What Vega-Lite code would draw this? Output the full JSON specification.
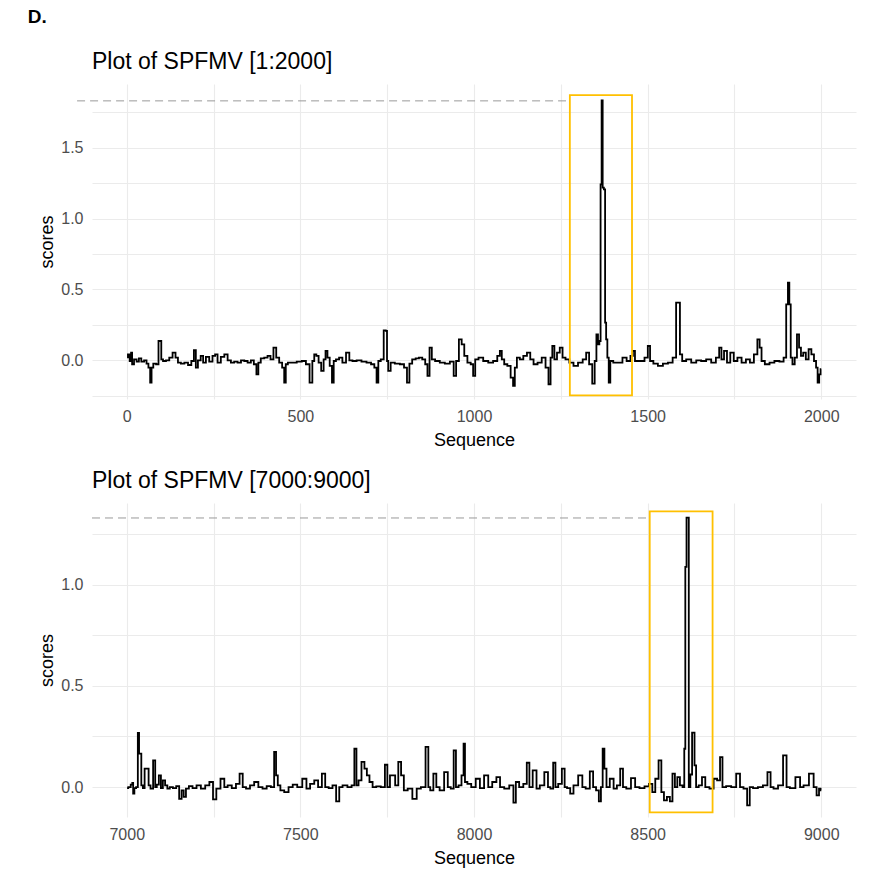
{
  "$schema": "https://vega.github.io/schema/vega-lite/v6.json",
  "background": "white",
  "padding": {"left": 27, "top": 8, "right": 10, "bottom": 5},
  "title": {"text": "D.", "anchor": "start", "fontSize": 19, "fontWeight": "bold", "font": "Liberation Sans", "color": "black", "offset": 24, "dx": -11},
  "spacing": 21,
  "config": {
    "font": "Liberation Sans",
    "view": {"stroke": null},
    "axis": {"grid": true, "gridColor": "#ebebeb", "gridWidth": 1.1, "domain": false, "ticks": false, "tickSize": 0, "labelColor": "#4d4d4d", "labelFontSize": 16, "labelOverlap": false, "titleFontSize": 18, "titleFontWeight": "normal", "titleColor": "black", "labelFont": "Liberation Sans", "titleFont": "Liberation Sans"}
  },
  "datasets": {
    "p1": [
      {"seq":1,"score":0.02},{"seq":6,"score":0.042},{"seq":11,"score":-0.005},{"seq":14,"score":0.054},{"seq":17,"score":-0.028},{"seq":25,"score":0.007},{"seq":32,"score":-0.009},{"seq":38,"score":0.014},{"seq":46,"score":-0.009},{"seq":54,"score":0.0},{"seq":60,"score":-0.023},{"seq":65,"score":-0.052},{"seq":70,"score":-0.158},{"seq":73,"score":-0.052},{"seq":80,"score":-0.023},{"seq":89,"score":-0.028},{"seq":94,"score":0.136},{"seq":98,"score":0.136},{"seq":101,"score":0.007},{"seq":108,"score":-0.005},{"seq":118,"score":0.0},{"seq":127,"score":0.019},{"seq":137,"score":0.054},{"seq":144,"score":0.019},{"seq":151,"score":-0.016},{"seq":161,"score":-0.023},{"seq":171,"score":-0.016},{"seq":182,"score":-0.033},{"seq":190,"score":-0.005},{"seq":197,"score":0.071},{"seq":201,"score":-0.052},{"seq":209,"score":0.0},{"seq":217,"score":0.031},{"seq":223,"score":-0.016},{"seq":233,"score":0.024},{"seq":242,"score":-0.009},{"seq":252,"score":0.031},{"seq":257,"score":0.042},{"seq":266,"score":-0.016},{"seq":276,"score":0.024},{"seq":286,"score":0.042},{"seq":295,"score":0.0},{"seq":305,"score":-0.016},{"seq":314,"score":-0.009},{"seq":324,"score":-0.016},{"seq":334,"score":0.0},{"seq":343,"score":-0.005},{"seq":353,"score":-0.016},{"seq":362,"score":0.0},{"seq":370,"score":-0.028},{"seq":377,"score":-0.099},{"seq":381,"score":-0.016},{"seq":391,"score":0.014},{"seq":401,"score":0.019},{"seq":410,"score":0.031},{"seq":418,"score":0.007},{"seq":427,"score":0.089},{"seq":434,"score":0.019},{"seq":444,"score":-0.016},{"seq":451,"score":-0.052},{"seq":456,"score":-0.158},{"seq":460,"score":-0.028},{"seq":468,"score":-0.016},{"seq":482,"score":-0.016},{"seq":497,"score":-0.009},{"seq":511,"score":-0.005},{"seq":521,"score":-0.028},{"seq":532,"score":-0.158},{"seq":537,"score":-0.005},{"seq":543,"score":0.042},{"seq":549,"score":0.031},{"seq":556,"score":-0.016},{"seq":564,"score":-0.075},{"seq":570,"score":0.007},{"seq":575,"score":0.066},{"seq":581,"score":0.019},{"seq":588,"score":-0.04},{"seq":594,"score":-0.158},{"seq":598,"score":-0.005},{"seq":607,"score":0.007},{"seq":616,"score":0.019},{"seq":626,"score":-0.016},{"seq":637,"score":0.054},{"seq":645,"score":0.0},{"seq":655,"score":-0.005},{"seq":669,"score":0.0},{"seq":683,"score":-0.009},{"seq":698,"score":-0.016},{"seq":709,"score":-0.028},{"seq":717,"score":-0.052},{"seq":722,"score":-0.158},{"seq":727,"score":-0.005},{"seq":736,"score":0.007},{"seq":744,"score":0.211},{"seq":748,"score":0.207},{"seq":751,"score":-0.005},{"seq":755,"score":-0.075},{"seq":765,"score":-0.016},{"seq":779,"score":-0.023},{"seq":794,"score":-0.028},{"seq":803,"score":-0.052},{"seq":811,"score":-0.158},{"seq":817,"score":-0.023},{"seq":827,"score":0.007},{"seq":837,"score":0.014},{"seq":846,"score":0.019},{"seq":856,"score":0.007},{"seq":863,"score":-0.028},{"seq":869,"score":-0.11},{"seq":875,"score":0.089},{"seq":882,"score":0.007},{"seq":894,"score":-0.005},{"seq":909,"score":-0.016},{"seq":923,"score":-0.023},{"seq":938,"score":-0.009},{"seq":945,"score":-0.11},{"seq":952,"score":-0.005},{"seq":961,"score":0.148},{"seq":968,"score":0.113},{"seq":976,"score":0.031},{"seq":986,"score":-0.016},{"seq":995,"score":-0.028},{"seq":1000,"score":-0.11},{"seq":1007,"score":0.007},{"seq":1019,"score":0.019},{"seq":1034,"score":-0.005},{"seq":1048,"score":-0.016},{"seq":1062,"score":-0.005},{"seq":1072,"score":0.031},{"seq":1077,"score":0.066},{"seq":1083,"score":0.007},{"seq":1091,"score":-0.028},{"seq":1101,"score":-0.04},{"seq":1110,"score":-0.122},{"seq":1115,"score":-0.181},{"seq":1120,"score":-0.052},{"seq":1127,"score":0.019},{"seq":1137,"score":0.007},{"seq":1147,"score":0.031},{"seq":1158,"score":0.054},{"seq":1166,"score":0.007},{"seq":1177,"score":-0.028},{"seq":1189,"score":-0.016},{"seq":1201,"score":0.019},{"seq":1211,"score":-0.052},{"seq":1218,"score":-0.169},{"seq":1223,"score":0.019},{"seq":1228,"score":0.101},{"seq":1235,"score":0.007},{"seq":1243,"score":0.054},{"seq":1251,"score":0.089},{"seq":1259,"score":0.019},{"seq":1268,"score":0.007},{"seq":1281,"score":-0.016},{"seq":1292,"score":-0.04},{"seq":1307,"score":-0.016},{"seq":1319,"score":0.007},{"seq":1327,"score":0.054},{"seq":1336,"score":-0.028},{"seq":1345,"score":-0.165},{"seq":1350,"score":-0.005},{"seq":1355,"score":0.183},{"seq":1359,"score":0.113},{"seq":1363,"score":0.136},{"seq":1366,"score":1.241},{"seq":1369,"score":1.833},{"seq":1372,"score":1.218},{"seq":1376,"score":1.206},{"seq":1379,"score":0.266},{"seq":1382,"score":0.148},{"seq":1386,"score":0.019},{"seq":1390,"score":-0.157},{"seq":1395,"score":-0.005},{"seq":1407,"score":-0.016},{"seq":1422,"score":-0.016},{"seq":1433,"score":0.019},{"seq":1446,"score":-0.005},{"seq":1455,"score":0.031},{"seq":1460,"score":0.066},{"seq":1467,"score":-0.005},{"seq":1484,"score":-0.005},{"seq":1498,"score":0.019},{"seq":1503,"score":0.101},{"seq":1511,"score":-0.005},{"seq":1522,"score":-0.023},{"seq":1537,"score":-0.04},{"seq":1551,"score":-0.023},{"seq":1566,"score":-0.016},{"seq":1578,"score":0.019},{"seq":1586,"score":0.407},{"seq":1591,"score":0.407},{"seq":1595,"score":0.042},{"seq":1604,"score":-0.005},{"seq":1618,"score":0.007},{"seq":1633,"score":-0.016},{"seq":1647,"score":0.0},{"seq":1661,"score":-0.005},{"seq":1676,"score":0.007},{"seq":1690,"score":-0.016},{"seq":1703,"score":0.019},{"seq":1709,"score":0.089},{"seq":1716,"score":0.007},{"seq":1724,"score":0.066},{"seq":1733,"score":-0.016},{"seq":1743,"score":0.054},{"seq":1753,"score":-0.005},{"seq":1764,"score":0.019},{"seq":1777,"score":-0.016},{"seq":1789,"score":0.007},{"seq":1800,"score":-0.016},{"seq":1812,"score":0.042},{"seq":1820,"score":0.148},{"seq":1825,"score":0.089},{"seq":1831,"score":-0.005},{"seq":1844,"score":-0.028},{"seq":1858,"score":-0.016},{"seq":1872,"score":-0.005},{"seq":1887,"score":-0.009},{"seq":1896,"score":0.019},{"seq":1902,"score":0.395},{"seq":1906,"score":0.548},{"seq":1910,"score":0.395},{"seq":1914,"score":0.019},{"seq":1920,"score":-0.028},{"seq":1927,"score":0.019},{"seq":1933,"score":0.183},{"seq":1939,"score":0.089},{"seq":1944,"score":0.031},{"seq":1952,"score":0.054},{"seq":1959,"score":0.007},{"seq":1968,"score":0.078},{"seq":1975,"score":0.042},{"seq":1983,"score":-0.005},{"seq":1987,"score":-0.052},{"seq":1992,"score":-0.157},{"seq":1996,"score":-0.099},{"seq":2000,"score":-0.063}
    ],
    "p2": [
      {"seq":7001,"score":-0.005},{"seq":7008,"score":0.0},{"seq":7015,"score":0.012},{"seq":7017,"score":0.021},{"seq":7020,"score":-0.033},{"seq":7024,"score":-0.005},{"seq":7030,"score":0.0},{"seq":7034,"score":0.268},{"seq":7037,"score":0.165},{"seq":7040,"score":0.165},{"seq":7044,"score":0.008},{"seq":7049,"score":-0.005},{"seq":7054,"score":0.091},{"seq":7061,"score":0.091},{"seq":7065,"score":0.008},{"seq":7072,"score":-0.008},{"seq":7080,"score":0.132},{"seq":7084,"score":0.0},{"seq":7089,"score":0.012},{"seq":7096,"score":0.058},{"seq":7101,"score":-0.005},{"seq":7107,"score":0.033},{"seq":7114,"score":0.008},{"seq":7120,"score":-0.008},{"seq":7128,"score":0.0},{"seq":7138,"score":-0.005},{"seq":7147,"score":0.005},{"seq":7155,"score":-0.058},{"seq":7161,"score":-0.016},{"seq":7167,"score":-0.049},{"seq":7174,"score":-0.008},{"seq":7184,"score":0.005},{"seq":7195,"score":-0.005},{"seq":7207,"score":0.008},{"seq":7220,"score":-0.008},{"seq":7232,"score":0.008},{"seq":7244,"score":0.025},{"seq":7253,"score":-0.061},{"seq":7263,"score":-0.008},{"seq":7277,"score":0.041},{"seq":7285,"score":0.0},{"seq":7296,"score":0.008},{"seq":7309,"score":-0.005},{"seq":7320,"score":0.016},{"seq":7330,"score":0.066},{"seq":7338,"score":0.0},{"seq":7349,"score":-0.008},{"seq":7361,"score":0.008},{"seq":7373,"score":0.025},{"seq":7385,"score":0.0},{"seq":7397,"score":-0.008},{"seq":7409,"score":0.005},{"seq":7421,"score":0.0},{"seq":7428,"score":0.173},{"seq":7432,"score":0.058},{"seq":7438,"score":0.008},{"seq":7447,"score":-0.016},{"seq":7460,"score":-0.025},{"seq":7472,"score":0.0},{"seq":7484,"score":0.012},{"seq":7498,"score":0.0},{"seq":7513,"score":0.041},{"seq":7522,"score":-0.008},{"seq":7534,"score":0.016},{"seq":7546,"score":0.033},{"seq":7556,"score":0.0},{"seq":7568,"score":0.066},{"seq":7575,"score":0.0},{"seq":7588,"score":-0.005},{"seq":7597,"score":0.008},{"seq":7609,"score":-0.071},{"seq":7615,"score":0.0},{"seq":7628,"score":0.008},{"seq":7643,"score":0.0},{"seq":7652,"score":0.008},{"seq":7659,"score":0.189},{"seq":7664,"score":0.008},{"seq":7671,"score":0.033},{"seq":7681,"score":0.124},{"seq":7688,"score":0.091},{"seq":7695,"score":0.058},{"seq":7703,"score":0.025},{"seq":7713,"score":0.0},{"seq":7724,"score":0.003},{"seq":7739,"score":0.0},{"seq":7748,"score":0.11},{"seq":7753,"score":0.0},{"seq":7763,"score":0.058},{"seq":7769,"score":0.058},{"seq":7777,"score":0.008},{"seq":7787,"score":0.124},{"seq":7793,"score":0.058},{"seq":7803,"score":-0.016},{"seq":7815,"score":-0.008},{"seq":7830,"score":-0.058},{"seq":7840,"score":-0.008},{"seq":7854,"score":0.0},{"seq":7867,"score":0.198},{"seq":7870,"score":0.0},{"seq":7878,"score":-0.016},{"seq":7888,"score":0.066},{"seq":7895,"score":0.0},{"seq":7907,"score":-0.016},{"seq":7921,"score":0.074},{"seq":7928,"score":0.0},{"seq":7938,"score":-0.008},{"seq":7945,"score":0.181},{"seq":7951,"score":0.0},{"seq":7960,"score":0.008},{"seq":7968,"score":0.058},{"seq":7972,"score":0.214},{"seq":7976,"score":0.025},{"seq":7986,"score":0.016},{"seq":7998,"score":0.0},{"seq":8012,"score":0.041},{"seq":8022,"score":-0.005},{"seq":8036,"score":0.058},{"seq":8046,"score":0.0},{"seq":8059,"score":0.025},{"seq":8070,"score":0.049},{"seq":8080,"score":0.0},{"seq":8094,"score":-0.008},{"seq":8109,"score":0.008},{"seq":8118,"score":-0.077},{"seq":8123,"score":0.025},{"seq":8137,"score":0.0},{"seq":8147,"score":0.016},{"seq":8157,"score":0.12},{"seq":8162,"score":0.0},{"seq":8176,"score":0.082},{"seq":8184,"score":-0.008},{"seq":8195,"score":0.008},{"seq":8210,"score":0.074},{"seq":8216,"score":0.0},{"seq":8224,"score":-0.008},{"seq":8232,"score":0.12},{"seq":8237,"score":0.0},{"seq":8248,"score":0.016},{"seq":8258,"score":0.091},{"seq":8264,"score":0.0},{"seq":8272,"score":-0.005},{"seq":8282,"score":-0.033},{"seq":8291,"score":0.008},{"seq":8309,"score":0.058},{"seq":8315,"score":0.0},{"seq":8328,"score":-0.008},{"seq":8339,"score":0.077},{"seq":8347,"score":0.0},{"seq":8356,"score":-0.016},{"seq":8363,"score":-0.071},{"seq":8368,"score":0.0},{"seq":8373,"score":0.189},{"seq":8378,"score":0.091},{"seq":8385,"score":0.0},{"seq":8397,"score":0.041},{"seq":8407,"score":-0.008},{"seq":8416,"score":0.008},{"seq":8426,"score":0.091},{"seq":8432,"score":0.0},{"seq":8445,"score":-0.008},{"seq":8459,"score":0.044},{"seq":8469,"score":0.0},{"seq":8484,"score":-0.005},{"seq":8498,"score":0.003},{"seq":8510,"score":0.016},{"seq":8517,"score":-0.025},{"seq":8527,"score":0.041},{"seq":8536,"score":0.132},{"seq":8543,"score":-0.025},{"seq":8551,"score":-0.066},{"seq":8560,"score":-0.049},{"seq":8568,"score":-0.071},{"seq":8575,"score":0.066},{"seq":8582,"score":0.0},{"seq":8589,"score":0.049},{"seq":8597,"score":0.008},{"seq":8604,"score":0.0},{"seq":8607,"score":0.189},{"seq":8610,"score":1.087},{"seq":8614,"score":1.331},{"seq":8617,"score":1.331},{"seq":8620,"score":0.0},{"seq":8626,"score":0.062},{"seq":8630,"score":0.269},{"seq":8633,"score":0.269},{"seq":8637,"score":0.107},{"seq":8642,"score":0.0},{"seq":8652,"score":0.008},{"seq":8661,"score":0.049},{"seq":8671,"score":0.0},{"seq":8685,"score":-0.008},{"seq":8695,"score":0.041},{"seq":8705,"score":0.033},{"seq":8712,"score":0.148},{"seq":8719,"score":0.0},{"seq":8733,"score":0.005},{"seq":8748,"score":0.0},{"seq":8762,"score":0.066},{"seq":8770,"score":0.0},{"seq":8782,"score":-0.008},{"seq":8791,"score":-0.091},{"seq":8797,"score":0.0},{"seq":8810,"score":-0.005},{"seq":8825,"score":0.0},{"seq":8839,"score":0.008},{"seq":8851,"score":0.074},{"seq":8857,"score":0.0},{"seq":8868,"score":-0.008},{"seq":8883,"score":0.008},{"seq":8897,"score":0.156},{"seq":8903,"score":0.0},{"seq":8916,"score":-0.005},{"seq":8935,"score":0.049},{"seq":8943,"score":0.0},{"seq":8955,"score":0.008},{"seq":8974,"score":0.066},{"seq":8982,"score":0.0},{"seq":8991,"score":-0.041},{"seq":8996,"score":-0.008},{"seq":9000,"score":-0.016}
    ],
    "box1": [{"x1": 1276, "x2": 1455, "y1": -0.247, "y2": 1.871}],
    "ref1": [{"x1": -143, "x2": 1265, "y": 1.83}],
    "box2": [{"x1": 8506, "x2": 8687, "y1": -0.125, "y2": 1.362}],
    "ref2": [{"x1": 6900, "x2": 8496, "y": 1.329}]
  },
  "vconcat": [
    {
      "width": 764,
      "height": 315,
      "title": {"text": "Plot of SPFMV [1:2000]", "anchor": "start", "frame": "group", "fontSize": 23, "fontWeight": "normal", "color": "black", "font": "Liberation Sans", "offset": 10},
      "layer": [
        {
          "data": {"name": "p1"},
          "mark": {"type": "line", "color": "black", "strokeWidth": 1.8, "interpolate": "step"},
          "encoding": {
            "x": {"field": "seq", "type": "quantitative", "scale": {"domain": [-100, 2100], "nice": false, "zero": false},
                  "axis": {"title": "Sequence", "values": [0, 250, 500, 750, 1000, 1250, 1500, 1750, 2000], "tickCount": 30, "labelExpr": "datum.value % 500 === 0 ? format(datum.value, 'd') : ''", "labelPadding": 9, "titlePadding": 7, "labelOverlap": false}},
            "y": {"field": "score", "type": "quantitative", "scale": {"domain": [-0.273, 1.949], "nice": false, "zero": false},
                  "axis": {"title": "scores", "values": [-0.25, 0, 0.25, 0.5, 0.75, 1, 1.25, 1.5, 1.75], "tickCount": 30, "labelExpr": "abs(datum.value) % 0.5 < 0.001 ? format(datum.value, '.1f') : ''", "labelPadding": 9, "titlePadding": 4, "labelOverlap": false}}
          }
        },
        {
          "data": {"name": "ref1"},
          "mark": {"type": "rule", "color": "#9a9a9a", "strokeWidth": 1, "strokeDash": [8, 5]},
          "encoding": {
            "x": {"field": "x1", "type": "quantitative", "scale": {"domain": [-100, 2100], "nice": false, "zero": false}, "title": "Sequence"},
            "x2": {"field": "x2"},
            "y": {"field": "y", "type": "quantitative", "scale": {"domain": [-0.273, 1.949], "nice": false, "zero": false}, "title": "scores"}
          }
        },
        {
          "data": {"name": "box1"},
          "mark": {"type": "rect", "fill": null, "fillOpacity": 0, "stroke": "#FFC000", "strokeWidth": 1.8},
          "encoding": {
            "x": {"field": "x1", "type": "quantitative", "scale": {"domain": [-100, 2100], "nice": false, "zero": false}, "title": "Sequence"},
            "x2": {"field": "x2"},
            "y": {"field": "y1", "type": "quantitative", "scale": {"domain": [-0.273, 1.949], "nice": false, "zero": false}, "title": "scores"},
            "y2": {"field": "y2"}
          }
        }
      ]
    },
    {
      "width": 764,
      "height": 314,
      "title": {"text": "Plot of SPFMV [7000:9000]", "anchor": "start", "frame": "group", "fontSize": 23, "fontWeight": "normal", "color": "black", "font": "Liberation Sans", "offset": 10},
      "layer": [
        {
          "data": {"name": "p2"},
          "mark": {"type": "line", "color": "black", "strokeWidth": 1.8, "interpolate": "step"},
          "encoding": {
            "x": {"field": "seq", "type": "quantitative", "scale": {"domain": [6900, 9100], "nice": false, "zero": false},
                  "axis": {"title": "Sequence", "values": [7000, 7250, 7500, 7750, 8000, 8250, 8500, 8750, 9000], "tickCount": 30, "labelExpr": "datum.value % 500 === 0 ? format(datum.value, 'd') : ''", "labelPadding": 9, "titlePadding": 7, "labelOverlap": false}},
            "y": {"field": "score", "type": "quantitative", "scale": {"domain": [-0.148, 1.403], "nice": false, "zero": false},
                  "axis": {"title": "scores", "values": [0, 0.25, 0.5, 0.75, 1, 1.25], "tickCount": 30, "labelExpr": "abs(datum.value) % 0.5 < 0.001 ? format(datum.value, '.1f') : ''", "labelPadding": 9, "titlePadding": 4, "labelOverlap": false}}
          }
        },
        {
          "data": {"name": "ref2"},
          "mark": {"type": "rule", "color": "#9a9a9a", "strokeWidth": 1, "strokeDash": [8, 5]},
          "encoding": {
            "x": {"field": "x1", "type": "quantitative", "scale": {"domain": [6900, 9100], "nice": false, "zero": false}, "title": "Sequence"},
            "x2": {"field": "x2"},
            "y": {"field": "y", "type": "quantitative", "scale": {"domain": [-0.148, 1.403], "nice": false, "zero": false}, "title": "scores"}
          }
        },
        {
          "data": {"name": "box2"},
          "mark": {"type": "rect", "fill": null, "fillOpacity": 0, "stroke": "#FFC000", "strokeWidth": 1.8},
          "encoding": {
            "x": {"field": "x1", "type": "quantitative", "scale": {"domain": [6900, 9100], "nice": false, "zero": false}, "title": "Sequence"},
            "x2": {"field": "x2"},
            "y": {"field": "y1", "type": "quantitative", "scale": {"domain": [-0.148, 1.403], "nice": false, "zero": false}, "title": "scores"},
            "y2": {"field": "y2"}
          }
        }
      ]
    }
  ]
}
